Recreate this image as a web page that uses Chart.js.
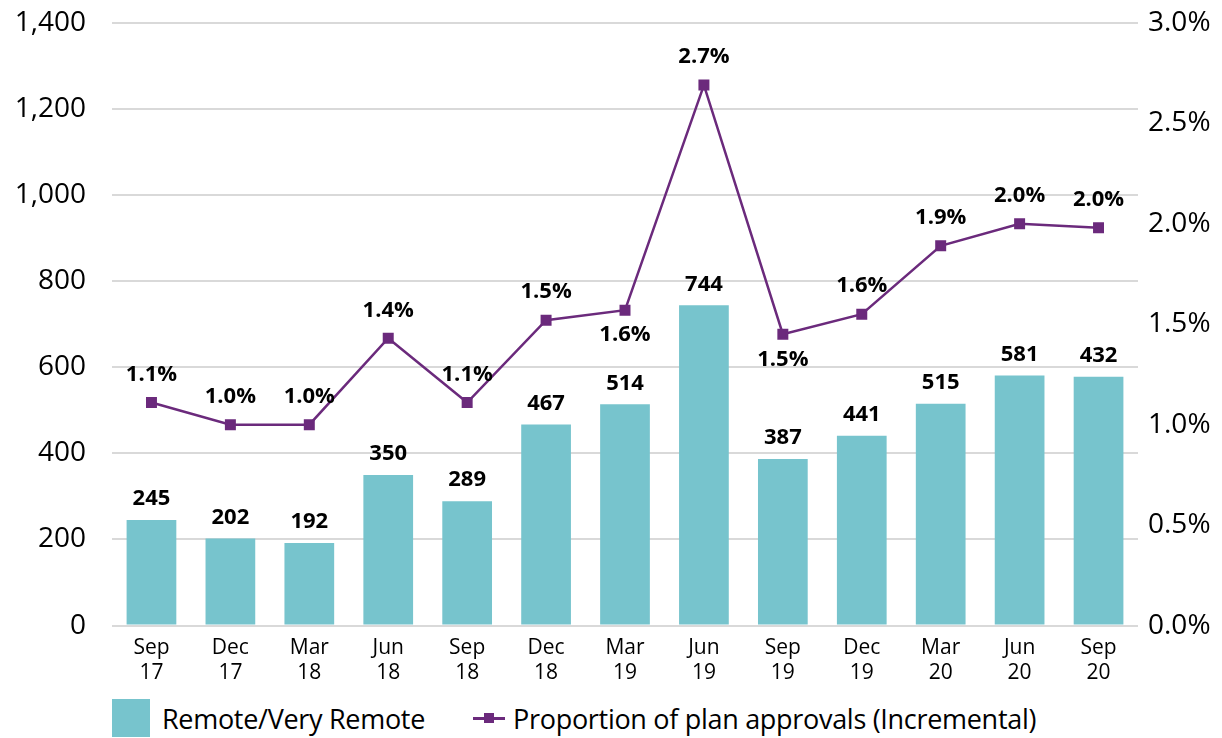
<!doctype html>
<html>
<head>
<meta http-equiv="Content-Type" content="text/html;charset=utf-8" />
<title>Remote / Very Remote plan approvals</title>
<script src="https://cdn.jsdelivr.net/npm/chart.js@4.4.0/dist/chart.umd.min.js"></script>
<style>
html, body { margin:0; padding:0; background:#fff; overflow:hidden; }
#wrap { position:relative; width:1222px; height:738px; overflow:hidden; }
#chart { position:absolute; left:0; top:-20px; width:1222px; height:708px; }
#legend {
  position:absolute; left:112px; top:698px; height:40px;
  font: 27px "Open Sans", sans-serif; color:#000;
  display:flex; align-items:center; letter-spacing:-0.3px;
}
.swatch { display:inline-block; width:38px; height:38px; background:#77c4cd; margin-right:12px; }
.lineKey { position:relative; display:inline-block; width:36px; height:38px; margin-left:46px; margin-right:6px; }
.lineKey:before { content:""; position:absolute; left:2px; right:2px; top:18px; height:3px; background:#6b2a7c; }
.lineKey:after { content:""; position:absolute; left:13px; top:14px; width:10px; height:10px; background:#6b2a7c; }
</style>
</head>
<body>
<div id="wrap">
  <div id="chart"><canvas id="myChart"></canvas></div>
  <div id="legend">
    <span class="swatch"></span><span>Remote/Very Remote</span>
    <span class="lineKey"></span><span>Proportion of plan approvals (Incremental)</span>
  </div>
</div>

<script type="text/javascript">
// quarters, two-line labels
var quarters = [["Sep","17"],["Dec","17"],["Mar","18"],["Jun","18"],["Sep","18"],["Dec","18"],["Mar","19"],
                ["Jun","19"],["Sep","19"],["Dec","19"],["Mar","20"],["Jun","20"],["Sep","20"]];
// bar heights as drawn (last bar is drawn at ~578 even though its label says 432)
var remote = [245, 202, 192, 350, 289, 467, 514, 744, 387, 441, 515, 581, 578];
var remoteLabels = ["245","202","192","350","289","467","514","744","387","441","515","581","432"];
// proportion line, as fraction
var proportion = [0.0111, 0.0100, 0.0100, 0.0143, 0.0111, 0.0152, 0.0157, 0.0269, 0.0145, 0.0155, 0.0189, 0.0200, 0.0198];
var proportionLabels = ["1.1%","1.0%","1.0%","1.4%","1.1%","1.5%","1.6%","2.7%","1.5%","1.6%","1.9%","2.0%","2.0%"];
var propLabelBelow = [6, 8]; // Mar 19 and Sep 19 sit under the point

var FONT = '"Open Sans", sans-serif';

// draws the value labels from the element positions
var valueLabels = {
  id: 'valueLabels',
  afterDatasetsDraw: function(chart) {
    var ctx = chart.ctx;
    ctx.save();
    ctx.fillStyle = '#000';
    ctx.font = 'bold 22px ' + FONT;
    ctx.textAlign = 'center';
    ctx.textBaseline = 'middle';
    var bars = chart.getDatasetMeta(1).data;
    bars.forEach(function(el, i) {
      ctx.fillText(remoteLabels[i], el.x, el.y - 21);
    });
    var pts = chart.getDatasetMeta(0).data;
    pts.forEach(function(el, i) {
      var below = propLabelBelow.indexOf(i) >= 0;
      ctx.fillText(proportionLabels[i], el.x, below ? el.y + 25 : el.y - 28);
    });
    ctx.restore();
  }
};

var ctx = document.getElementById('myChart').getContext('2d');
var chart = new Chart(ctx, {
  type: 'bar',
  data: {
    labels: quarters,
    datasets: [{
      type: 'line',
      label: 'Proportion of plan approvals (Incremental)',
      data: proportion,
      yAxisID: 'y2',
      borderColor: '#6b2a7c',
      backgroundColor: '#6b2a7c',
      borderWidth: 2.5,
      pointStyle: 'rect',
      pointRadius: 6,
      pointHoverRadius: 6,
      tension: 0,
      order: 0
    }, {
      label: 'Remote/Very Remote',
      data: remote,
      yAxisID: 'y',
      backgroundColor: '#77c4cd',
      barPercentage: 0.63,
      categoryPercentage: 1,
      order: 1
    }]
  },
  options: {
    responsive: true,
    maintainAspectRatio: false,
    animation: false,
    layout: { padding: { top: 4, bottom: 0, left: 0, right: 0 } },
    plugins: { legend: { display: false }, tooltip: { enabled: false } },
    scales: {
      x: {
        grid: { display: false },
        border: { display: false },
        ticks: { color: '#000', font: { family: FONT, size: 21, lineHeight: 1.2 }, maxRotation: 0, padding: 2 }
      },
      y: {
        position: 'left',
        min: 0, max: 1400,
        ticks: {
          stepSize: 200, color: '#000', padding: 26,
          font: { family: FONT, size: 28 },
          callback: function(v) { return v.toLocaleString('en-US'); }
        },
        grid: { color: '#d9d9d9', lineWidth: 2, drawTicks: false },
        border: { display: false },
        afterFit: function(s) { s.width = 112; }
      },
      y2: {
        position: 'right',
        min: 0, max: 0.03,
        ticks: {
          stepSize: 0.005, color: '#000', padding: 10,
          font: { family: FONT, size: 28 },
          callback: function(v) { return (v * 100).toFixed(1) + '%'; }
        },
        grid: { display: false, drawTicks: false },
        border: { display: false },
        afterFit: function(s) { s.width = 84; }
      }
    }
  },
  plugins: [valueLabels]
});
</script>
</body>
</html>
